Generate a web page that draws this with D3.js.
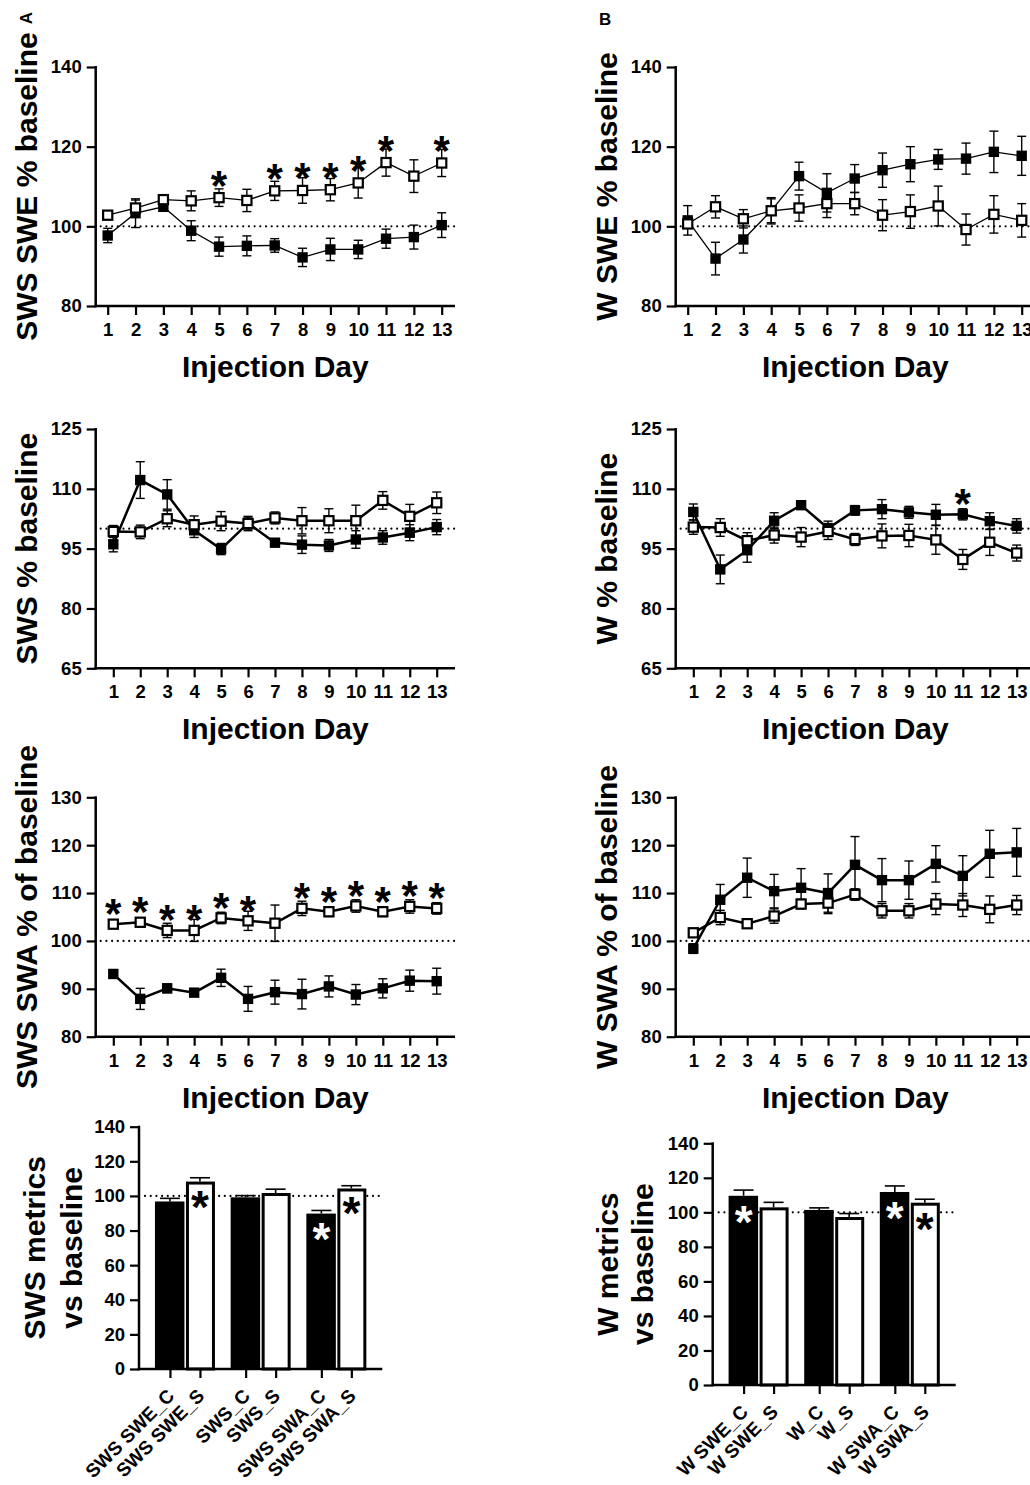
<!DOCTYPE html>
<html><head><meta charset="utf-8">
<script src="https://cdn.jsdelivr.net/npm/d3@7"></script>
<style>
body{margin:0;background:#fff}
svg text{font-family:"Liberation Sans",Arial,Helvetica,sans-serif;font-weight:bold;fill:#000}
</style>
</head><body>
<svg id="c" width="1030" height="1485" xmlns="http://www.w3.org/2000/svg"></svg>
<script>
// ---------- DATA ----------
const days = [1,2,3,4,5,6,7,8,9,10,11,12,13];

// A1: SWS SWE % baseline
const swsSweC    = [97.7,103.3,104.9,98.9,94.9,95.1,95.2,92.2,94.2,94.2,96.9,97.3,100.3];
const swsSweCErr = [1.8,3.6,1.0,2.5,2.4,2.5,1.7,2.3,2.8,2.3,2.4,3.0,3.1];
const swsSweS    = [102.8,104.6,106.7,106.4,107.2,106.5,108.9,109.0,109.2,110.9,116.0,112.6,115.9];
const swsSweSErr = [0.8,2.0,0.8,2.5,2.2,2.8,2.4,3.2,2.8,3.8,3.4,4.1,3.4];
const swsSweStars = [5,7,8,9,10,11,13];

// B1: W SWE % baseline
const wSweC    = [101.5,91.9,96.7,103.9,112.6,108.4,112.0,114.1,115.6,116.8,117.0,118.7,117.7];
const wSweCErr = [3.7,4.1,3.4,3.3,3.5,4.8,3.5,4.3,4.4,2.5,3.9,5.2,4.9];
const wSweS    = [100.6,104.9,101.9,103.9,104.6,105.7,105.7,102.8,103.7,105.1,99.2,103.0,101.5];
const wSweSErr = [0.8,2.8,2.3,3.0,3.3,3.5,2.8,3.9,4.2,5.0,3.9,4.7,4.2];

// A2: SWS % baseline
const swsPctC    = [96.1,112.2,108.6,99.6,94.9,101.4,96.5,96.0,95.8,97.3,97.8,99.0,100.4];
const swsPctCErr = [1.9,4.6,3.7,1.8,1.4,1.5,1.0,2.2,1.5,2.2,1.7,2.0,1.9];
const swsPctS    = [99.3,99.2,102.5,101.0,101.9,101.3,102.7,102.0,102.0,102.0,107.1,103.1,106.5];
const swsPctSErr = [1.5,1.7,2.0,2.2,2.4,1.8,1.5,3.3,3.0,3.9,2.2,3.0,2.7];

// B2: W % baseline
const wPctC    = [104.2,89.8,94.6,102.0,105.9,100.1,104.6,104.9,104.1,103.5,103.6,101.9,100.7];
const wPctCErr = [2.0,3.6,3.0,2.0,1.0,1.8,1.2,2.4,1.5,2.6,1.4,2.1,1.8];
const wPctS    = [100.4,100.3,97.0,98.4,97.9,99.3,97.3,98.2,98.3,97.2,92.3,96.6,93.9];
const wPctSErr = [1.8,2.2,2.0,2.0,2.4,2.0,1.5,3.0,2.8,3.6,2.5,3.3,2.0];
const wPctStars = [11];

// A3: SWS SWA % of baseline
const swsSwaC    = [93.1,87.9,90.1,89.2,92.3,87.9,89.3,88.9,90.5,88.8,90.1,91.7,91.6];
const swsSwaCErr = [0.9,2.2,0.9,0.5,1.8,2.6,2.5,3.1,2.2,2.1,2.0,2.2,2.7];
const swsSwaS    = [103.5,103.9,102.2,102.2,104.8,104.2,103.7,106.8,106.1,107.3,106.1,107.2,106.8];
const swsSwaSErr = [0.8,0.8,1.5,2.3,1.2,2.0,3.8,1.5,1.0,1.3,1.0,1.4,1.2];
const swsSwaStars = [1,2,3,4,5,6,8,9,10,11,12,13];

// B3: W SWA % of baseline
const wSwaC    = [98.4,108.6,113.2,110.4,111.1,110.0,115.9,112.7,112.7,116.1,113.6,118.2,118.5];
const wSwaCErr = [1.0,3.2,4.1,3.5,4.0,4.0,5.9,4.5,4.0,3.8,4.2,4.9,5.0];
const wSwaS    = [101.7,104.9,103.6,105.2,107.7,107.9,109.7,106.3,106.3,107.7,107.5,106.6,107.5];
const wSwaSErr = [0.8,1.5,0.8,1.5,1.0,2.2,1.2,1.5,1.5,2.2,2.4,2.8,2.0];

// Tick labels
const ticksSWE = [80,100,120,140];
const ticksPct = [65,80,95,110,125];
const ticksSWA = [80,90,100,110,120,130];
const ticksBar = [0,20,40,60,80,100,120,140];

// Bar charts
const swsBarLabels = ["SWS SWE_C","SWS SWE_S","SWS_C","SWS_S","SWS SWA_C","SWS SWA_S"];
const swsBarValues = [96.8,108.3,99.2,101.7,89.8,104.3];
const swsBarErr    = [1.8,2.2,1.0,2.2,1.8,1.6];
const swsBarStars  = [false,true,false,false,true,true];
const wBarLabels = ["W SWE_C","W SWE_S","W_C","W_S","W SWA_C","W SWA_S"];
const wBarValues = [109.6,102.9,101.4,97.3,111.8,105.6];
const wBarErr    = [3.3,2.9,1.2,2.0,3.5,2.0];
const wBarStars  = [true,false,false,false,true,true];

// ---------- DRAWING ----------
const svg = d3.select("#c");
const FONT_TICK = 18.5, FONT_TITLE = 30;

function styleAxis(sel, fs){
  sel.selectAll("path.domain").remove();
  sel.selectAll(".tick line").attr("stroke","#000").attr("stroke-width",2.2);
  sel.selectAll(".tick text").attr("font-size",fs||FONT_TICK).attr("fill","#000")
     .style("font-family",'"Liberation Sans",Arial,sans-serif').style("font-weight","bold");
}

function linePanel(o){
  const g = svg.append("g");
  const x = d3.scaleLinear().domain([1,13]).range([o.d1,o.d13]);
  const y = d3.scaleLinear().domain([o.ticks[0],o.ticks[o.ticks.length-1]]).range([o.yBot,o.yTop]);

  // dotted baseline
  g.append("line").attr("x1",o.ax+5).attr("x2",o.xEnd).attr("y1",y(100)).attr("y2",y(100))
    .attr("stroke","#000").attr("stroke-width",2.2).attr("stroke-dasharray","0 5.7").attr("stroke-linecap","round");

  // axes
  const ya = g.append("g").attr("transform",`translate(${o.ax},0)`)
    .call(d3.axisLeft(y).tickValues(o.ticks).tickSize(9).tickSizeOuter(0).tickPadding(5));
  styleAxis(ya);
  const xa = g.append("g").attr("transform",`translate(0,${o.yBot})`)
    .call(d3.axisBottom(x).tickValues(days).tickSize(9).tickSizeOuter(0).tickPadding(8).tickFormat(d3.format("d")));
  styleAxis(xa);
  g.append("line").attr("x1",o.ax).attr("x2",o.ax).attr("y1",o.yTop-1).attr("y2",o.yBot+1.25)
    .attr("stroke","#000").attr("stroke-width",2.5);
  g.append("line").attr("x1",o.ax-1.25).attr("x2",o.xEnd).attr("y1",o.yBot).attr("y2",o.yBot)
    .attr("stroke","#000").attr("stroke-width",2.5);

  // titles
  g.append("text").attr("x",(o.ax+o.xEnd)/2).attr("y",o.yBot+71).attr("text-anchor","middle")
    .attr("font-size",FONT_TITLE).text("Injection Day");
  g.append("text").attr("transform",`translate(${o.labX},${(o.yTop+o.yBot)/2}) rotate(-90)`)
    .attr("text-anchor","middle").attr("font-size",FONT_TITLE).text(o.yLabel);

  const series = [
    {v:o.C, e:o.Ce, open:false},
    {v:o.S, e:o.Se, open:true}
  ];
  const line = d3.line().x((d,i)=>x(days[i])).y(d=>y(d));
  // error bars
  series.forEach(s=>{
    const eb = g.append("g").attr("stroke","#000").attr("stroke-width",1.4);
    s.v.forEach((v,i)=>{
      const cx = x(days[i]);
      eb.append("line").attr("x1",cx).attr("x2",cx).attr("y1",y(v-s.e[i])).attr("y2",y(v+s.e[i]));
      [v-s.e[i], v+s.e[i]].forEach(t=>{
        eb.append("line").attr("x1",cx-4.5).attr("x2",cx+4.5).attr("y1",y(t)).attr("y2",y(t));
      });
    });
  });
  // lines
  series.forEach(s=>{
    g.append("path").attr("d",line(s.v)).attr("fill","none").attr("stroke","#000").attr("stroke-width",o.lw);
  });
  // markers
  series.forEach(s=>{
    s.v.forEach((v,i)=>{
      const cx = x(days[i]), cy = y(v);
      if(s.open){
        g.append("rect").attr("x",cx-4.6).attr("y",cy-4.6).attr("width",9.2).attr("height",9.2)
          .attr("fill","#fff").attr("stroke","#000").attr("stroke-width",2.2);
      } else {
        g.append("rect").attr("x",cx-5.2).attr("y",cy-5.2).attr("width",10.4).attr("height",10.4).attr("fill","#000");
      }
    });
  });
  // stars
  if(o.stars){
    const src = o.starOn==="C" ? o.C : o.S;
    o.stars.forEach(dy=>{
      const cx = x(dy), cy = y(src[dy-1]) - o.starOff;
      g.append("text").attr("x",cx).attr("y",cy+24).attr("text-anchor","middle").attr("font-size",42).text("*");
    });
  }
}

function barPanel(o){
  const g = svg.append("g");
  const y = d3.scaleLinear().domain([0,140]).range([o.yBot,o.yTop]);
  const grp = d3.scalePoint().domain([0,1,2]).range([o.ax,o.xEnd]).padding(0.607);
  const pos = o.labels.map((l,i)=>grp(Math.floor(i/2)) + (i%2 ? 15 : -15));
  const xs = d3.scaleOrdinal().domain(o.labels).range(pos);

  // dotted baseline
  g.append("line").attr("x1",o.ax+6).attr("x2",o.xEnd).attr("y1",y(100)).attr("y2",y(100))
    .attr("stroke","#000").attr("stroke-width",2.2).attr("stroke-dasharray","0 5.7").attr("stroke-linecap","round");

  // error bars (upwards)
  o.values.forEach((v,i)=>{
    const cx = pos[i];
    g.append("line").attr("x1",cx).attr("x2",cx).attr("y1",y(v)).attr("y2",y(v+o.err[i])).attr("stroke","#000").attr("stroke-width",1.6);
    g.append("line").attr("x1",cx-10).attr("x2",cx+10).attr("y1",y(v+o.err[i])).attr("y2",y(v+o.err[i])).attr("stroke","#000").attr("stroke-width",1.6);
  });
  // bars
  o.values.forEach((v,i)=>{
    const cx = pos[i];
    if(i%2===0){
      g.append("rect").attr("x",cx-15).attr("y",y(v)).attr("width",29.5).attr("height",y(0)-y(v)).attr("fill","#000");
    } else {
      g.append("rect").attr("x",cx-12.5).attr("y",y(v)+1.5).attr("width",26).attr("height",y(0)-y(v)-1.5)
        .attr("fill","#fff").attr("stroke","#000").attr("stroke-width",3);
    }
    if(o.stars[i]){
      g.append("text").attr("x",cx).attr("y",y(v)+o.starOff+26).attr("text-anchor","middle").attr("font-size",46)
        .attr("fill", i%2===0 ? "#fff" : "#000").style("fill", i%2===0 ? "#fff" : "#000").text("*");
    }
  });

  // axes
  const ya = g.append("g").attr("transform",`translate(${o.ax},0)`)
    .call(d3.axisLeft(y).tickValues(ticksBar).tickSize(9).tickSizeOuter(0).tickPadding(5));
  styleAxis(ya);
  const xa = g.append("g").attr("transform",`translate(0,${o.yBot})`)
    .call(d3.axisBottom(xs).tickSize(9).tickSizeOuter(0));
  styleAxis(xa, 19);
  xa.selectAll(".tick text").attr("text-anchor","end").attr("dy",null).attr("y",null)
    .attr("transform","translate(5,28) rotate(-45)");
  g.append("line").attr("x1",o.ax).attr("x2",o.ax).attr("y1",o.yTop-1).attr("y2",o.yBot+1.25)
    .attr("stroke","#000").attr("stroke-width",2.5);
  g.append("line").attr("x1",o.ax-1.25).attr("x2",o.xEnd).attr("y1",o.yBot).attr("y2",o.yBot)
    .attr("stroke","#000").attr("stroke-width",2.5);

  // y title (two lines)
  const cy = (o.yTop+o.yBot)/2;
  o.yLabel.forEach((t,k)=>{
    g.append("text").attr("transform",`translate(${o.labX[k]},${cy}) rotate(-90)`)
      .attr("text-anchor","middle").attr("font-size",FONT_TITLE).text(t);
  });
}

// panel letters
svg.append("text").attr("transform","translate(32,18) rotate(-90)").attr("text-anchor","middle").attr("font-size",17).text("A");
svg.append("text").attr("x",599).attr("y",25).attr("font-size",17).text("B");

// Row 1
linePanel({ax:95.7,xEnd:455,d1:107.7,d13:441.7,yTop:67,yBot:306,ticks:ticksSWE,labX:37,lw:1.3,
  yLabel:"SWS SWE % baseline",C:swsSweC,Ce:swsSweCErr,S:swsSweS,Se:swsSweSErr,stars:swsSweStars,starOn:"S",starOff:22});
linePanel({ax:675.7,xEnd:1035,d1:687.7,d13:1021.7,yTop:67,yBot:306,ticks:ticksSWE,labX:617,lw:1.3,
  yLabel:"W SWE % baseline",C:wSweC,Ce:wSweCErr,S:wSweS,Se:wSweSErr});
// Row 2
linePanel({ax:95.7,xEnd:455,d1:113.3,d13:436.7,yTop:429,yBot:668.3,ticks:ticksPct,labX:37,lw:2.5,
  yLabel:"SWS % baseline",C:swsPctC,Ce:swsPctCErr,S:swsPctS,Se:swsPctSErr});
linePanel({ax:675.7,xEnd:1035,d1:693.3,d13:1016.7,yTop:429,yBot:668.3,ticks:ticksPct,labX:617,lw:2.5,
  yLabel:"W % baseline",C:wPctC,Ce:wPctCErr,S:wPctS,Se:wPctSErr,stars:wPctStars,starOn:"C",starOff:20});
// Row 3
linePanel({ax:95.7,xEnd:455,d1:113.3,d13:436.7,yTop:797.3,yBot:1036.7,ticks:ticksSWA,labX:37,lw:2.5,
  yLabel:"SWS SWA % of baseline",C:swsSwaC,Ce:swsSwaCErr,S:swsSwaS,Se:swsSwaSErr,stars:swsSwaStars,starOn:"S",starOff:20});
linePanel({ax:675.7,xEnd:1035,d1:693.3,d13:1016.7,yTop:797.3,yBot:1036.7,ticks:ticksSWA,labX:617,lw:2.5,
  yLabel:"W SWA % of baseline",C:wSwaC,Ce:wSwaCErr,S:wSwaS,Se:wSwaSErr});
// Row 4 bars
barPanel({ax:139,xEnd:382.3,yTop:1126.7,yBot:1369,labels:swsBarLabels,values:swsBarValues,err:swsBarErr,
  stars:swsBarStars,starOff:15,yLabel:["SWS metrics","vs baseline"],labX:[45,82]});
barPanel({ax:712.7,xEnd:955.7,yTop:1143.3,yBot:1385,labels:wBarLabels,values:wBarValues,err:wBarErr,
  stars:wBarStars,starOff:16,yLabel:["W metrics","vs baseline"],labX:[618,653]});
</script>
</body></html>
